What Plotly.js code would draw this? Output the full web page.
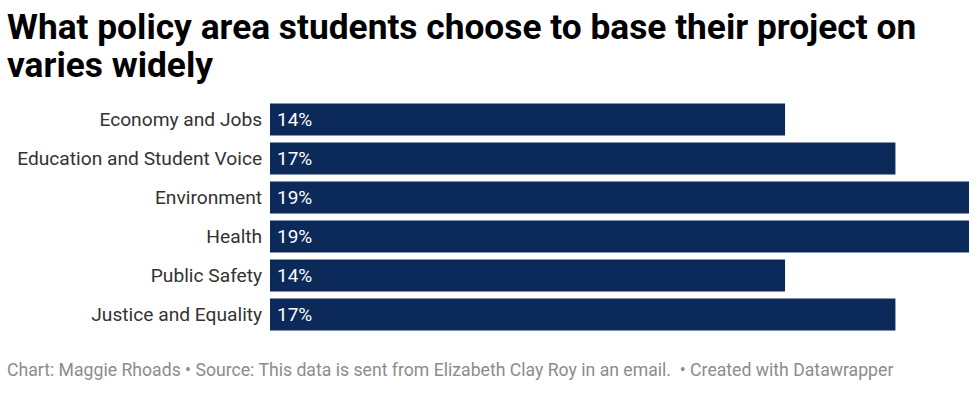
<!DOCTYPE html>
<html>
<head>
<meta charset="utf-8">
<script src="https://cdn.plot.ly/plotly-3.0.1.min.js"></script>
<style>
  body { margin: 0; background: #fff; }
  #chart { width: 980px; height: 401px; }
</style>
</head>
<body>
<div id="chart"></div>
<script>
const categories = [
    'Economy and Jobs',
    'Education and Student Voice',
    'Environment',
    'Health',
    'Public Safety',
    'Justice and Equality',
]
const shares = [14, 17, 19, 19, 14, 17]
const share_labels = ['14%', '17%', '19%', '19%', '14%', '17%']

const title_lines = [
    'What policy area students choose to base their project on',
    'varies widely',
]
const footer = 'Chart: Maggie Rhoads • Source: This data is sent from Elizabeth Clay Roy in an email.  • Created with Datawrapper'

const bar_color = '#0b2a59'
const font = 'Roboto, "Open Sans", sans-serif'

// plot area: 270..969 wide, 100..334 tall
const plot_l = 270, plot_w = 699, plot_t = 100, plot_h = 234

function paper_x(px) { return (px - plot_l) / plot_w }
function paper_y(py) { return (plot_t + plot_h - py) / plot_h }

const trace = {
    type: 'bar',
    orientation: 'h',
    x: shares,
    y: categories,
    marker: { color: bar_color },
    hoverinfo: 'none',
}

// value labels sit just inside the left end of each bar
const value_labels = categories.map(function (cat, i) {
    return {
        x: 0,
        y: cat,
        xref: 'x',
        yref: 'y',
        text: share_labels[i],
        showarrow: false,
        xanchor: 'left',
        xshift: 5,
        font: { family: font, size: 19, color: '#ffffff' },
    }
})

const title_annotations = title_lines.map(function (line, i) {
    return {
        text: '<b>' + line + '</b>',
        xref: 'paper',
        yref: 'paper',
        x: paper_x(5),
        y: paper_y(27 + i * 38),
        xanchor: 'left',
        yanchor: 'middle',
        showarrow: false,
        font: { family: font, size: 35.3, color: '#000000' },
    }
})

const layout = {
    width: 980,
    height: 401,
    paper_bgcolor: '#ffffff',
    plot_bgcolor: '#ffffff',
    showlegend: false,
    bargap: 0.18,
    margin: { t: plot_t, r: 980 - plot_l - plot_w, b: 401 - plot_t - plot_h, l: plot_l },
    xaxis: {
        range: [0, 19],
        showgrid: false,
        zeroline: false,
        showticklabels: false,
        showline: false,
        fixedrange: true,
    },
    yaxis: {
        autorange: 'reversed',
        showgrid: false,
        zeroline: false,
        showline: false,
        ticks: 'outside',
        ticklen: 3,
        tickcolor: 'rgba(0,0,0,0)',
        tickfont: { family: font, size: 19.2, color: '#333333' },
        fixedrange: true,
    },
    annotations: value_labels.concat(title_annotations, [{
        text: footer,
        xref: 'paper',
        yref: 'paper',
        x: paper_x(5),
        y: paper_y(370),
        xanchor: 'left',
        yanchor: 'middle',
        showarrow: false,
        font: { family: font, size: 17.65, color: '#8c8c8c' },
    }]),
}

Plotly.newPlot('chart', [trace], layout, { displayModeBar: false, staticPlot: true })
</script>
</body>
</html>
